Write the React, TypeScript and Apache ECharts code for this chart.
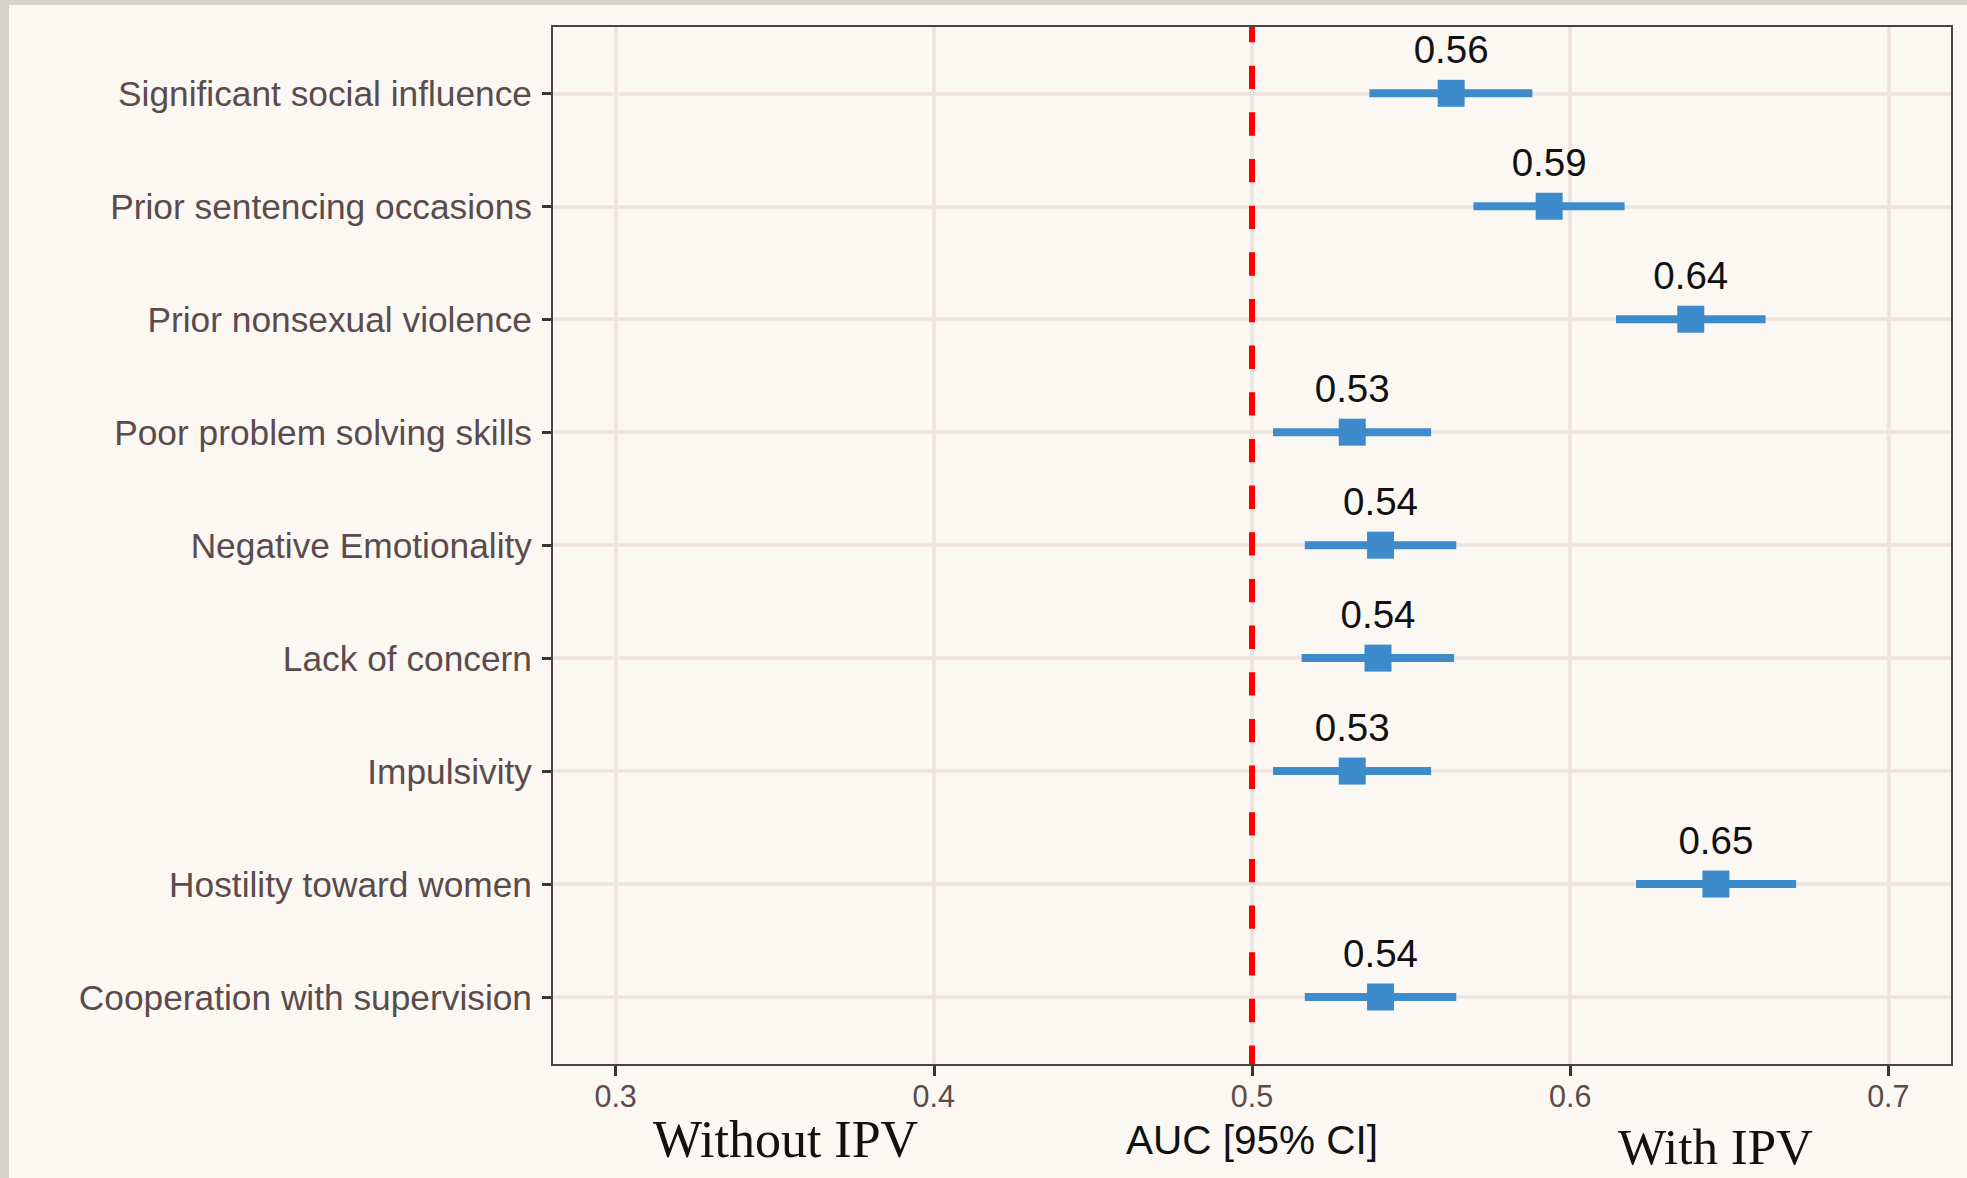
import React, { useEffect, useRef } from "react";
import * as echarts from "echarts";

const categories = [
  "Significant social influence",
  "Prior sentencing occasions",
  "Prior nonsexual violence",
  "Poor problem solving skills",
  "Negative Emotionality",
  "Lack of concern",
  "Impulsivity",
  "Hostility toward women",
  "Cooperation with supervision",
];
const auc = [0.5626, 0.5934, 0.6379, 0.5315, 0.5404, 0.5396, 0.5315, 0.6458, 0.5404];
const lower = [0.5369, 0.5696, 0.6144, 0.5066, 0.5166, 0.5156, 0.5066, 0.6207, 0.5166];
const upper = [0.5881, 0.6171, 0.6614, 0.5563, 0.5642, 0.5635, 0.5563, 0.671, 0.5642];
const xTicks = [0.3, 0.4, 0.5, 0.6, 0.7];
const xMin = 0.28;
const xMax = 0.72;
const refValue = 0.5;

const SANS = "'Liberation Sans', Arial, sans-serif";
const SERIF = "'Liberation Serif', 'Times New Roman', serif";
const BLUE = "#3d8bcb";
const TEXT = "#5b4b4c";
const DARK = "#3d3233";
const GRIDC = "#efe3de";
const BG = "#fbf8f3";

export default function App() {
  const ref = useRef<HTMLDivElement>(null);
  useEffect(() => {
    if (!ref.current) return;
    const chart = echarts.init(ref.current, null, { renderer: "svg" });
    const rows = categories.map((c, i) => [i + 1, lower[i], auc[i], upper[i]]);
    const option: any = {
      animation: false,
      backgroundColor: BG,
      graphic: [
        { type: "rect", shape: { x: 0, y: 0, width: 1967, height: 5 }, style: { fill: "#d8d4cf" } },
        { type: "rect", shape: { x: 0, y: 0, width: 9, height: 1178 }, style: { fill: "#d8d4cf" } },
        {
          type: "text",
          x: 653,
          y: 1139.5,
          style: { text: "Without IPV", fontFamily: SERIF, fontSize: 52, fill: "#111", align: "left", verticalAlign: "middle" },
        },
        {
          type: "text",
          x: 1618,
          y: 1147,
          style: { text: "With IPV", fontFamily: SERIF, fontSize: 51, fill: "#111", align: "left", verticalAlign: "middle" },
        },
      ],
      grid: [
        { left: 552, top: 26, width: 1400, height: 1039, show: false },
        { left: 552, top: 93.3, width: 1400, height: 903.7, show: false },
      ],
      xAxis: [
        {
          type: "value",
          gridIndex: 0,
          min: xMin,
          max: xMax,
          axisLine: { show: false },
          axisTick: { show: true, length: 11, lineStyle: { color: DARK, width: 3 }, customValues: xTicks },
          axisLabel: {
            show: true,
            customValues: xTicks,
            formatter: (v: number) => String(Math.round(v * 10) / 10),
            fontFamily: SANS,
            fontSize: 30.5,
            lineHeight: 30,
            color: TEXT,
            margin: 16,
          },
          splitLine: { show: true, lineStyle: { color: GRIDC, width: 3.5 } },
          name: "AUC [95% CI]",
          nameLocation: "middle",
          nameGap: 55,
          nameTextStyle: { fontFamily: SANS, fontSize: 40.5, lineHeight: 40, color: "#111" },
        },
        {
          type: "value",
          gridIndex: 1,
          min: xMin,
          max: xMax,
          show: false,
          splitLine: { show: false },
        },
      ],
      yAxis: [
        { type: "value", gridIndex: 0, min: 0, max: 1, show: false, splitLine: { show: false } },
        {
          type: "value",
          gridIndex: 1,
          min: 1,
          max: 9,
          interval: 1,
          inverse: true,
          axisLine: { show: false },
          axisTick: { show: true, length: 10, lineStyle: { color: DARK, width: 3 } },
          axisLabel: {
            formatter: (v: number) => categories[Math.round(v) - 1] ?? "",
            fontFamily: SANS,
            fontSize: 35.3,
            color: TEXT,
            margin: 20,
          },
          splitLine: { show: true, lineStyle: { color: GRIDC, width: 3.5 } },
        },
      ],
      series: [
        {
          type: "custom",
          name: "ref",
          xAxisIndex: 0,
          yAxisIndex: 0,
          z: 3,
          clip: false,
          data: [[refValue]],
          encode: { x: 0 },
          renderItem: (params: any, api: any) => {
            const v = api.value(0);
            const p1 = api.coord([v, 1]);
            const p2 = api.coord([v, 0]);
            return {
              type: "line",
              shape: { x1: p1[0], y1: p1[1], x2: p2[0], y2: p2[1] },
              style: { stroke: "#ff0000", lineWidth: 6, lineDash: [23.33, 23.33], lineDashOffset: 7 },
            };
          },
        },
        {
          type: "custom",
          name: "frame",
          xAxisIndex: 0,
          yAxisIndex: 0,
          z: 10,
          clip: false,
          silent: true,
          data: [[xMin, 0, xMax, 1]],
          encode: { x: [0, 2], y: [1, 3] },
          renderItem: (params: any, api: any) => {
            const a = api.coord([api.value(0), api.value(3)]);
            const b = api.coord([api.value(2), api.value(1)]);
            return {
              type: "rect",
              shape: { x: a[0], y: a[1], width: b[0] - a[0], height: b[1] - a[1] },
              style: { fill: "none", stroke: "#4d4141", lineWidth: 2 },
            };
          },
        },
        {
          type: "custom",
          name: "AUC",
          xAxisIndex: 1,
          yAxisIndex: 1,
          z: 5,
          clip: false,
          data: rows,
          encode: { x: [1, 2, 3], y: 0 },
          renderItem: (params: any, api: any) => {
            const y = api.value(0);
            const lo = api.coord([api.value(1), y]);
            const est = api.coord([api.value(2), y]);
            const hi = api.coord([api.value(3), y]);
            const s = 27;
            return {
              type: "group",
              children: [
                {
                  type: "line",
                  shape: { x1: lo[0], y1: lo[1], x2: hi[0], y2: hi[1] },
                  style: { stroke: BLUE, lineWidth: 8 },
                },
                {
                  type: "rect",
                  shape: { x: est[0] - s / 2, y: est[1] - s / 2, width: s, height: s },
                  style: { fill: BLUE },
                },
                {
                  type: "text",
                  x: est[0],
                  y: est[1] - 44,
                  style: {
                    text: (api.value(2) as number).toFixed(2),
                    fontFamily: SANS,
                    fontSize: 38.5,
                    fill: "#111",
                    align: "center",
                    verticalAlign: "middle",
                  },
                },
              ],
            };
          },
        },
      ],
    };
    chart.setOption(option);
    return () => chart.dispose();
  }, []);
  return <div ref={ref} style={{ position: "fixed", left: 0, top: 0, width: 1967, height: 1178 }} />;
}
